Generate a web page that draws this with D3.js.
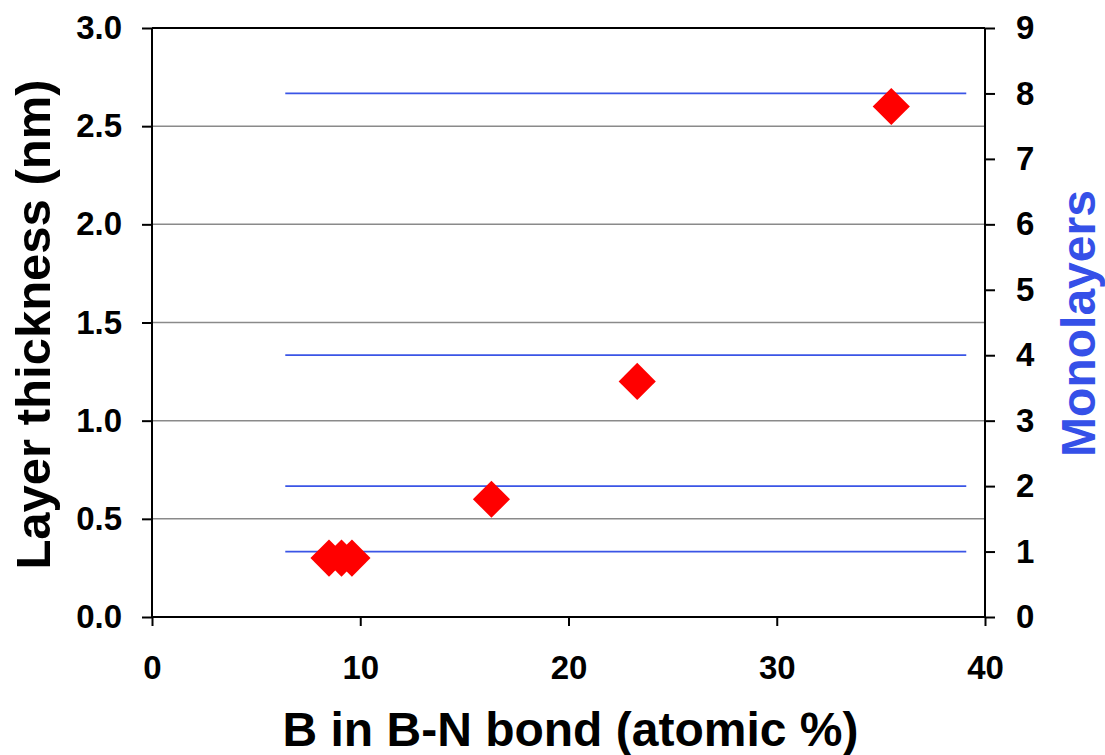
<!DOCTYPE html>
<html><head><meta charset="utf-8">
<script src="https://cdn.jsdelivr.net/npm/d3@7"></script>
<style>
html,body{margin:0;padding:0;background:#fff;}
text{font-family:"Liberation Sans",Arial,sans-serif;font-weight:bold;}
</style></head>
<body>
<svg id="chart" width="1105" height="755"></svg>
<script>
// Data
const boronPercent = [8.5, 9.1, 9.6, 16.3, 23.3, 35.5];
const layerThickness = [0.3, 0.3, 0.3, 0.6, 1.2, 2.6];
const monolayerLevels = [1, 2, 4, 8];
const monolayerLineStart = 6.4;
const monolayerLineEnd = 39.1;
const xTicks = [0, 10, 20, 30, 40];
const yTicks = [0.0, 0.5, 1.0, 1.5, 2.0, 2.5, 3.0];
const y2Ticks = [0, 1, 2, 3, 4, 5, 6, 7, 8, 9];

const svg = d3.select("#chart");
const L = 152, R = 985, T = 28, B = 617;
const x = d3.scaleLinear().domain([0, 40]).range([L, R]);
const y = d3.scaleLinear().domain([0, 3]).range([B, T]);
const y2 = d3.scaleLinear().domain([0, 9]).range([B, T]);

// gridlines
svg.append("g").selectAll("line").data(yTicks.filter(d => d > 0 && d < 3)).join("line")
  .attr("x1", L).attr("x2", R).attr("y1", d => y(d)).attr("y2", d => y(d))
  .attr("stroke", "#8a8a8a").attr("stroke-width", 1.5);

// monolayer lines
svg.append("g").selectAll("line").data(monolayerLevels).join("line")
  .attr("x1", x(monolayerLineStart)).attr("x2", x(monolayerLineEnd))
  .attr("y1", d => y2(d)).attr("y2", d => y2(d))
  .attr("stroke", "#3a55e6").attr("stroke-width", 1.8);

// top border
svg.append("line").attr("x1", L).attr("x2", R).attr("y1", T).attr("y2", T)
  .attr("stroke", "#000").attr("stroke-width", 2);

// axes
const yAxis = d3.axisLeft(y).tickValues(yTicks).tickFormat(d3.format(".1f")).tickSize(10).tickPadding(20);
const gy = svg.append("g").attr("transform", `translate(${L},0)`).call(yAxis);
const y2Axis = d3.axisRight(y2).tickValues(y2Ticks).tickFormat(d3.format("d")).tickSize(10).tickPadding(21);
const gy2 = svg.append("g").attr("transform", `translate(${R},0)`).call(y2Axis);
const xAxis = d3.axisBottom(x).tickValues(xTicks).tickFormat(d3.format("d")).tickSize(9).tickPadding(30);
const gx = svg.append("g").attr("transform", `translate(0,${B})`).call(xAxis);

[gy, gy2, gx].forEach(g => {
  g.select(".domain").attr("stroke", "#000").attr("stroke-width", 2);
  g.selectAll(".tick line").attr("stroke", "#000").attr("stroke-width", 2);
  g.selectAll(".tick text").attr("fill", "#000").style("font-size", "33px")
    .style("font-family", "'Liberation Sans', Arial, sans-serif").style("font-weight", "bold");
});
gx.select(".domain").attr("d", `M${L},0H${R}`);
gy.select(".domain").attr("d", `M0,${B}V${T}`);
gy2.select(".domain").attr("d", `M0,${B}V${T}`);

// data points
const sym = d3.symbol().type(d3.symbolSquare).size(690);
svg.append("g").selectAll("path").data(boronPercent.map((b, i) => [b, layerThickness[i]])).join("path")
  .attr("d", sym)
  .attr("transform", d => `translate(${x(d[0])},${y(d[1])}) rotate(45)`)
  .attr("fill", "#ff0000");

// titles
svg.append("text").attr("x", (L + R) / 2 + 2).attr("y", 746).attr("text-anchor", "middle")
  .style("font-size", "48px").attr("fill", "#000").text("B in B-N bond (atomic %)");
svg.append("text").attr("transform", `translate(50,${(T + B) / 2 + 2}) rotate(-90)`).attr("text-anchor", "middle")
  .style("font-size", "49px").attr("fill", "#000").text("Layer thickness (nm)");
svg.append("text").attr("transform", `translate(1095,${(T + B) / 2 + 1}) rotate(-90)`).attr("text-anchor", "middle")
  .style("font-size", "48px").attr("fill", "#3550e8").text("Monolayers");
</script>
</body></html>
